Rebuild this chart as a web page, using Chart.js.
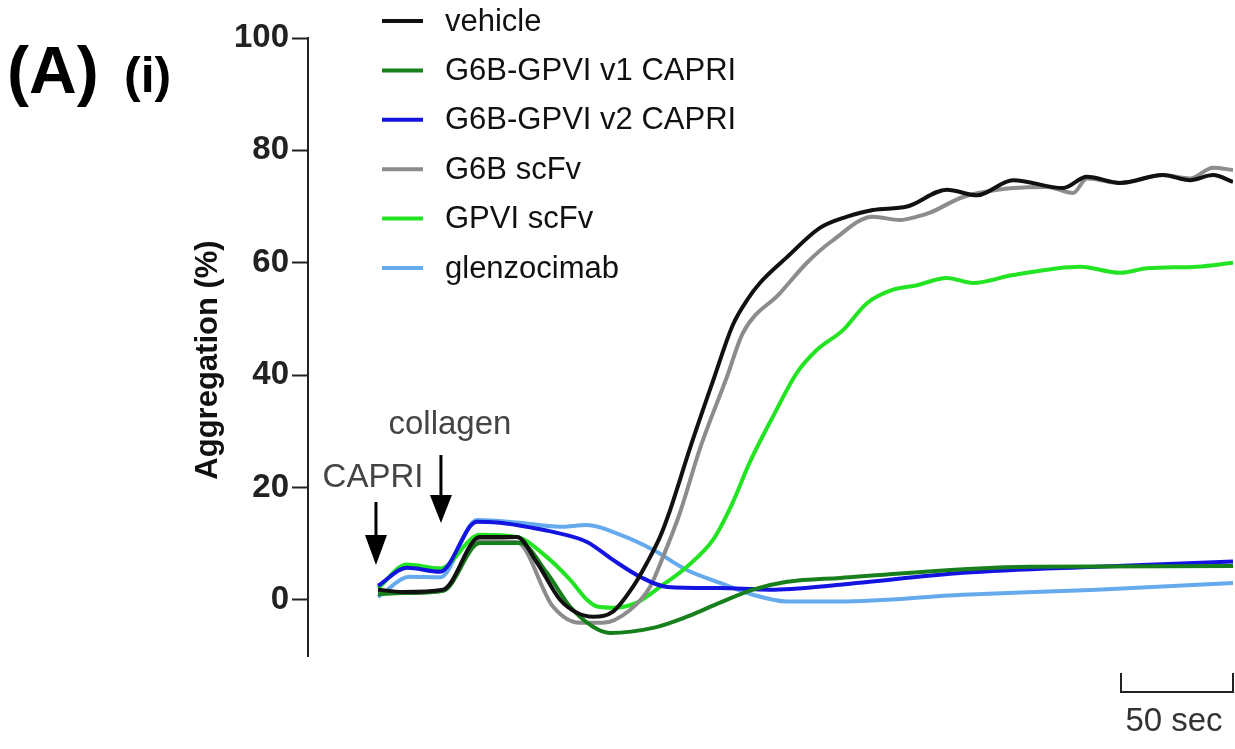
<!DOCTYPE html>
<html>
<head>
<meta charset="utf-8">
<script src="https://cdn.jsdelivr.net/npm/chart.js@4/dist/chart.umd.min.js"></script>
<style>
  body { margin: 0; background: #fff; }
  #wrap { width: 1235px; height: 749px; }
</style>
</head>
<body>
<div id="wrap"><canvas id="aggChart" width="1235" height="749"></canvas></div>
<script>
// tempo em segundos (0 = adição do CAPRI), agregação em %
const seriesNames = ['vehicle', 'G6B-GPVI v1 CAPRI', 'G6B-GPVI v2 CAPRI', 'G6B scFv', 'GPVI scFv', 'glenzocimab'];
const seriesColors = ['#111111', '#17801c', '#1414e0', '#8c8c8c', '#22e422', '#66aaee'];

const tVehicle = [0, 11, 29, 45.5, 62, 71, 81.3, 88.8, 96, 104.9, 113.8, 120.1, 125.9, 130, 139.3, 149.6, 158.5, 165, 170.5, 182.6, 197.3, 209.4, 221, 236.2, 254, 267.4, 283.5, 305.8, 316.5, 331.3, 350.4, 362.5, 372.8, 381.7];
const yVehicle = [1.8, 1.4, 1.8, 11.2, 11.2, 6.6, 0, -2.3, -3, -2.1, 2.3, 6.6, 11.2, 15.5, 27, 39, 49, 53.5, 56.4, 61, 66.2, 68.2, 69.4, 70, 73, 72, 74.7, 73.3, 75.3, 74.2, 75.6, 74.7, 75.6, 74.4];

const tV1 = [0, 11, 29, 45.5, 63.4, 75.4, 85.7, 96, 103.6, 122.8, 137.9, 152.7, 167.4, 182.6, 206.3, 291, 381.7];
const yV1 = [1, 1.2, 1.6, 10.1, 10.1, 4.8, -1.2, -4.8, -5.9, -5, -3, -0.5, 1.8, 3.2, 3.9, 5.9, 6];

const tV2 = [0, 12.9, 27.7, 44.2, 54.5, 69.2, 78.1, 93.3, 104.9, 117, 129, 152.7, 175, 206.3, 261.2, 321, 381.7];
const yV2 = [2.5, 5.7, 5, 13.9, 13.7, 12.8, 12.1, 10.3, 7.1, 4.1, 2.3, 2.1, 1.8, 2.7, 4.8, 5.9, 6.8];

const tG6B = [0, 11, 29, 45.5, 62, 78.1, 90.2, 100.4, 112.5, 121.4, 127.2, 134.8, 143.8, 155.8, 162.9, 179.5, 191.5, 203.1, 221, 233, 240.6, 246.4, 261.2, 283.5, 298.7, 310.3, 316.5, 331.3, 350.4, 362.5, 372.8, 381.7];
const yG6B = [1.2, 1.2, 1.6, 10.5, 10.3, -1.2, -4.1, -4.1, -1.8, 2.3, 7.6, 15.5, 27, 39.7, 47.5, 54.6, 60, 64, 68.2, 67.6, 68.2, 68.9, 71.7, 73.3, 73.5, 72.4, 75, 74.2, 75.6, 75, 76.9, 76.5];

const tGPVI = [0, 12.9, 27.7, 45.5, 62, 75.4, 85.7, 93.3, 97.8, 104.9, 115.6, 125.9, 137.9, 149.6, 158, 166, 176.3, 187, 196, 207.6, 218.3, 229.9, 240.6, 254, 265.6, 283.5, 313.4, 331.3, 343.3, 365.6, 381.7];
const yGPVI = [2, 6.3, 5.6, 11.6, 11.2, 7.6, 3.6, 0, -1.2, -1.4, -0.5, 2.3, 5.9, 10.7, 17, 24.5, 32.6, 40.4, 44.5, 48, 52.8, 55.2, 56, 57.3, 56.4, 57.8, 59.3, 58.2, 59, 59.3, 60];

const tGlenzo = [0, 14.3, 27.7, 44.2, 63.4, 81.3, 93.3, 108, 122.8, 137.9, 152.7, 167.4, 182.6, 206.3, 261.2, 321, 381.7];
const yGlenzo = [0.5, 4.1, 4, 14.2, 13.7, 13, 13.3, 11.6, 8.9, 5.3, 3, 0.9, -0.3, -0.3, 0.9, 1.8, 3];

const yTickStep = 20;
const eventNames = ['CAPRI', 'collagen'];
const eventTimes = [-0.9, 28.1];
const scaleBarSec = 50;

const seriesT = [tVehicle, tV1, tV2, tG6B, tGPVI, tGlenzo];
const seriesY = [yVehicle, yV1, yV2, yG6B, yGPVI, yGlenzo];

const FONT = '"Liberation Sans", Arial, sans-serif';

// desenha rótulos, legenda, setas e barra de escala
const anotacoes = {
    id: 'anotacoes',
    afterDraw(chart) {
        const ctx = chart.ctx;
        const x = chart.scales.x;
        ctx.save();

        ctx.fillStyle = '#000';
        ctx.textBaseline = 'alphabetic';
        ctx.font = 'bold 66px ' + FONT;
        ctx.fillText('(A)', 7, 93);
        ctx.font = 'bold 50px ' + FONT;
        ctx.fillText('(i)', 124, 92);

        // título do eixo y
        ctx.save();
        ctx.translate(208, 360);
        ctx.rotate(-Math.PI / 2);
        ctx.textAlign = 'center';
        ctx.textBaseline = 'middle';
        ctx.font = 'bold 31px ' + FONT;
        ctx.fillStyle = '#111';
        ctx.fillText('Aggregation (%)', 0, 0);
        ctx.restore();

        // legenda
        ctx.font = '31px ' + FONT;
        ctx.textBaseline = 'middle';
        chart.data.datasets.forEach((ds, i) => {
            const cy = 21 + i * 49.4;
            ctx.strokeStyle = ds.borderColor;
            ctx.lineWidth = 4;
            ctx.beginPath();
            ctx.moveTo(382, cy);
            ctx.lineTo(423, cy);
            ctx.stroke();
            ctx.fillStyle = '#111';
            ctx.fillText(ds.label, 445, cy + 1);
        });

        // setas
        const arrows = [
            { shaftTop: 502, headTop: 535, tip: 565, tx: -3, ty: 478 },
            { shaftTop: 455, headTop: 495, tip: 523, tx: 9, ty: 425 }
        ];
        ctx.font = '33px ' + FONT;
        ctx.textAlign = 'center';
        eventTimes.forEach((t, i) => {
            const px = x.getPixelForValue(t);
            const a = arrows[i];
            ctx.strokeStyle = '#000';
            ctx.fillStyle = '#000';
            ctx.lineWidth = 3;
            ctx.beginPath();
            ctx.moveTo(px, a.shaftTop);
            ctx.lineTo(px, a.headTop + 2);
            ctx.stroke();
            ctx.beginPath();
            ctx.moveTo(px - 11, a.headTop);
            ctx.lineTo(px + 11, a.headTop);
            ctx.lineTo(px, a.tip);
            ctx.closePath();
            ctx.fill();
            ctx.fillStyle = '#444';
            ctx.fillText(eventNames[i], px + a.tx, a.ty);
        });

        // barra de escala (50 s)
        const xr = x.getPixelForValue(x.max);
        const xl = x.getPixelForValue(x.max - scaleBarSec);
        ctx.strokeStyle = '#222';
        ctx.lineWidth = 2;
        ctx.beginPath();
        ctx.moveTo(xl, 673);
        ctx.lineTo(xl, 692);
        ctx.lineTo(xr, 692);
        ctx.lineTo(xr, 673);
        ctx.stroke();
        ctx.fillStyle = '#333';
        ctx.font = '33px ' + FONT;
        ctx.fillText(scaleBarSec + ' sec', (xl + xr) / 2 - 3, 722);

        ctx.restore();
    }
};

document.addEventListener('DOMContentLoaded', () => {
    const ctx = document.getElementById('aggChart').getContext('2d');

    const datasets = seriesNames.map((nome, i) => ({
        label: nome,
        data: seriesT[i].map((t, k) => ({ x: t, y: seriesY[i][k] })),
        borderColor: seriesColors[i],
        backgroundColor: seriesColors[i],
        borderWidth: 4,
        pointRadius: 0,
        fill: false,
        cubicInterpolationMode: 'monotone'
    }));

    new Chart(ctx, {
        type: 'line',
        data: { datasets: datasets },
        options: {
            responsive: false,
            animation: false,
            layout: { padding: { top: 38, right: 2, bottom: 93, left: 0 } },
            plugins: {
                legend: { display: false },
                tooltip: { enabled: false }
            },
            scales: {
                x: {
                    type: 'linear',
                    display: false,
                    min: -31.25,
                    max: 381.7
                },
                y: {
                    min: -10,
                    max: 100,
                    afterFit: s => { s.width = 308; },
                    ticks: {
                        stepSize: yTickStep,
                        includeBounds: false,
                        padding: 3,
                        color: '#222',
                        font: { family: FONT, size: 33, weight: 'bold' }
                    },
                    grid: {
                        drawOnChartArea: false,
                        drawTicks: true,
                        tickLength: 16,
                        tickWidth: 2,
                        tickColor: '#222'
                    },
                    border: { display: true, color: '#222', width: 2 }
                }
            }
        },
        plugins: [anotacoes]
    });
});
</script>
</body>
</html>
